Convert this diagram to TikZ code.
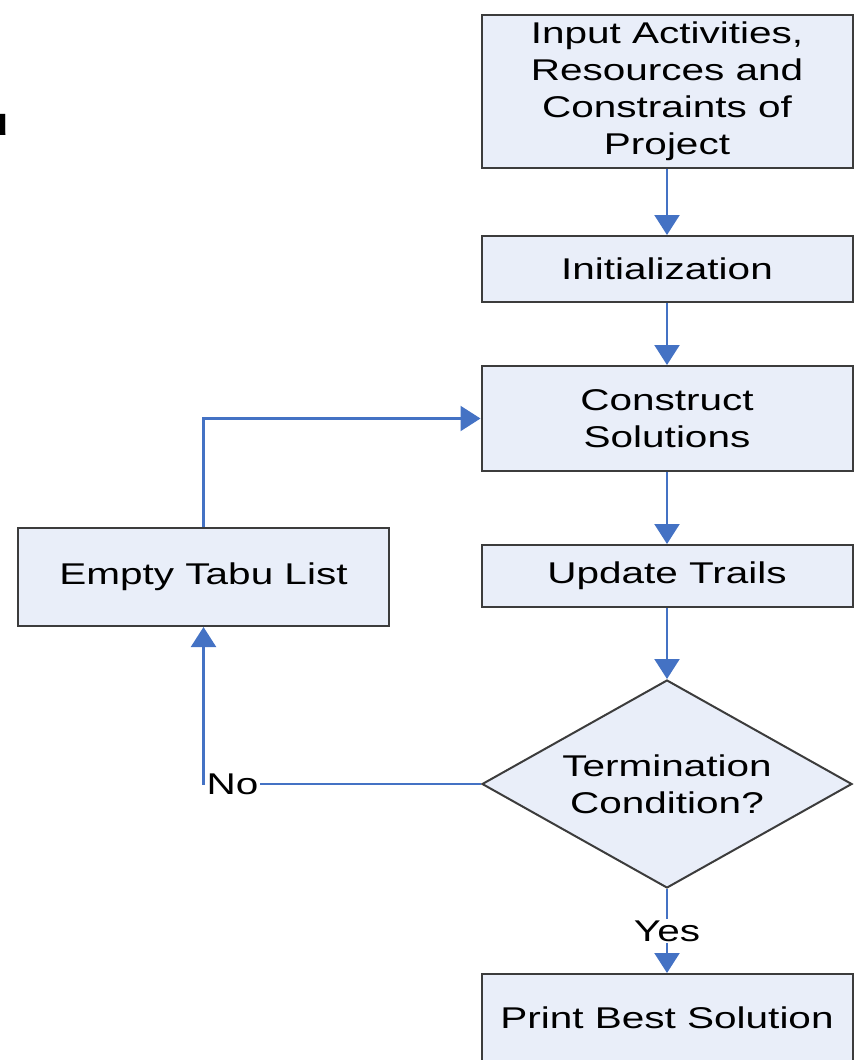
\documentclass[tikz,border=0pt]{standalone}
\usepackage{fontspec}
\setmainfont[FakeStretch=1.35]{Liberation Sans}
\usetikzlibrary{positioning, shapes.geometric, arrows.meta}
\definecolor{boxColor}{RGB}{233,238,249}
\definecolor{borderColor}{RGB}{60,60,60}
\definecolor{flowColor}{RGB}{68,114,196}
\tikzstyle{chart} = [x = 1pt, y = -1pt]
\tikzstyle{stepBox} = [draw=borderColor, fill=boxColor, line width=2pt, minimum width=371pt, inner sep=0pt, align=center, font=\fontsize{30}{37}\selectfont]
\tikzstyle{testShape} = [stepBox, diamond, aspect=1.78, minimum width=370pt, minimum height=208pt]
\tikzstyle{flowLine} = [color=flowColor, line width=2.2pt, -{Triangle[width=25pt, length=20pt]}]
\tikzstyle{flowText} = [fill=white, inner sep=2pt, text=black, font=\fontsize{30}{37}\selectfont]

\begin{document}
\begin{tikzpicture}[chart]
  \useasboundingbox (0, 0) rectangle (863, 1060);

  \node [anchor=base east, inner sep=0pt, font=\fontsize{40}{40}\selectfont\bfseries] (cutText) at (10, 135) {u};

  \node [stepBox, minimum height=153pt] (input) at (667, 91.5) {Input Activities,\\Resources and\\Constraints of\\Project};
  \node [stepBox, minimum height=66pt] (init) at (667, 269) {Initialization};
  \node [stepBox, minimum height=105pt] (construct) at (667, 418.5) {Construct\\Solutions};
  \node [stepBox, minimum height=62pt] (update) at (667, 576) {Update Trails};
  \node [testShape] (term) at (667, 784) {Termination\\Condition?};
  \node [stepBox, minimum height=98pt] (tabu) at (203.5, 577) {Empty Tabu List};
  \node [stepBox, minimum height=88pt] (print) at (667, 1018) {Print Best Solution};

  \draw [flowLine] (input) -- (init);
  \draw [flowLine] (init) -- (construct);
  \draw [flowLine] (construct) -- (update);
  \draw [flowLine] (update) -- (term);
  \draw [flowLine] (term) -- node [flowText] (yesText) {Yes} (print);
  \draw [flowLine] (term.west) -| node [flowText, anchor=west] (noText) {No} (tabu.south);
  \draw [flowLine] (tabu.north) |- (construct.west);
\end{tikzpicture}
\end{document}
